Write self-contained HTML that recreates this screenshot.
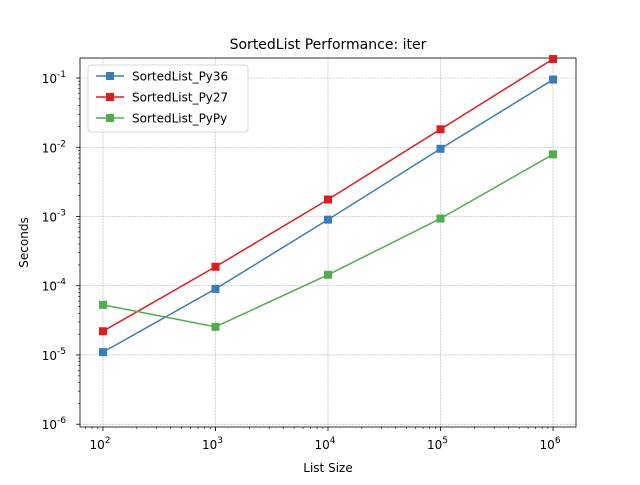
<!DOCTYPE html>
<html><head><meta charset="utf-8"><style>
body{margin:0;background:#fff;font-family:"Liberation Sans","DejaVu Sans",sans-serif;}
svg text{font-family:"DejaVu Sans","Liberation Sans",sans-serif;}
</style></head><body>
<svg id="chart" width="640" height="480" xmlns="http://www.w3.org/2000/svg">
<rect width="640" height="480" fill="#fff"/>
<g id="grid"></g><g id="axes"></g><g id="series"></g><g id="legend"></g>
</svg>
<script>
const sizes=[100,1000,10000,100000,1000000];
const py36=[1.1e-5,9.0e-5,9.0e-4,9.5e-3,9.5e-2];
const py27=[2.2e-5,1.88e-4,1.76e-3,1.82e-2,0.188];
const pypy=[5.3e-5,2.55e-5,1.44e-4,9.35e-4,7.9e-3];
const seriesNames=["SortedList_Py36","SortedList_Py27","SortedList_PyPy"];
const xTicks=[2,3,4,5,6];
const yTicks=[-6,-5,-4,-3,-2,-1];
const L=80,R=576,T=58,B=427;
const xmin=1.796,xmax=6.204,ymin=-6.04,ymax=-0.711;
const NS="http://www.w3.org/2000/svg";
function X(v){return L+(Math.log10(v)-xmin)/(xmax-xmin)*(R-L);}
function Y(v){return B-(Math.log10(v)-ymin)/(ymax-ymin)*(B-T);}
function mk(p,t,a){const e=document.createElementNS(NS,t);for(const k in a)e.setAttribute(k,a[k]);p.appendChild(e);return e;}
const grid=document.getElementById('grid'),axes=document.getElementById('axes'),ser=document.getElementById('series'),leg=document.getElementById('legend');
function sup(g,x,y,e,anchor){const t=mk(g,'text',{x:x,y:y,'font-size':12,'text-anchor':anchor,fill:'#000'});t.textContent='10';const s=mk(t,'tspan',{dy:-6,'font-size':9});s.textContent=e;return t;}
xTicks.forEach(e=>{const x=X(Math.pow(10,e));
 const gl=mk(grid,'line',{x1:x,x2:x,y1:T,y2:B,stroke:'#b0b0b0','stroke-width':0.6,'stroke-dasharray':'2.2,1'});
 
 mk(axes,'line',{x1:x,x2:x,y1:B,y2:B+4,stroke:'#000','stroke-width':0.8});
 const t=sup(axes,x-3,B+22,e,'middle');
 for(let m=2;m<10;m++){const v=m*Math.pow(10,e);const xm=X(v);if(xm<R)mk(axes,'line',{x1:xm,x2:xm,y1:B,y2:B+2,stroke:'#000','stroke-width':0.6});}
 for(let m=2;m<10;m++){const v=m*Math.pow(10,e-1);const xm=X(v);if(xm>L&&e==2)mk(axes,'line',{x1:xm,x2:xm,y1:B,y2:B+2,stroke:'#000','stroke-width':0.6});}
});
yTicks.forEach(e=>{const y=Y(Math.pow(10,e));
 const gl=mk(grid,'line',{x1:L,x2:R,y1:y,y2:y,stroke:'#b0b0b0','stroke-width':0.6,'stroke-dasharray':'2.2,1'});
 
 mk(axes,'line',{x1:L-4,x2:L,y1:y,y2:y,stroke:'#000','stroke-width':0.8});
 const t=sup(axes,L-14,y+5,e,'end');
 for(let m=2;m<10;m++){const ym=Y(m*Math.pow(10,e));if(ym>T)mk(axes,'line',{x1:L-2,x2:L,y1:ym,y2:ym,stroke:'#000','stroke-width':0.6});}
});
const fr=mk(axes,'rect',{x:L,y:T,width:R-L,height:B-T,fill:'none',stroke:'#000','stroke-width':0.8});

const ti=mk(axes,'text',{x:(L+R)/2,y:49,'font-size':14,'text-anchor':'middle'});ti.textContent='SortedList Performance: iter';

const xl=mk(axes,'text',{x:(L+R)/2,y:472,'font-size':12,'text-anchor':'middle'});xl.textContent='List Size';

const yl=mk(axes,'text',{x:28,y:(T+B)/2,'font-size':12,'text-anchor':'middle',transform:'rotate(-90 28 '+(T+B)/2+')'});yl.textContent='Seconds';

const data=[py36,py27,pypy],colors=['#377eb8','#e41a1c','#4daf4a'];
data.forEach((d,i)=>{
 const pts=d.map((v,j)=>X(sizes[j])+','+Y(v)).join(' ');
 const pl=mk(ser,'polyline',{points:pts,fill:'none',stroke:colors[i],'stroke-width':1.5});
 
 d.forEach((v,j)=>{const r=mk(ser,'rect',{x:X(sizes[j])-4,y:Y(v)-4,width:8,height:8,fill:colors[i]});
  });
});
const lb=mk(leg,'rect',{x:88,y:65,width:160,height:67,rx:3,fill:'#fff','fill-opacity':0.8,stroke:'#ccc','stroke-width':0.8});

seriesNames.forEach((n,i)=>{const y=76+i*21;
 mk(leg,'line',{x1:96,x2:124,y1:y,y2:y,stroke:colors[i],'stroke-width':1.5});
 mk(leg,'rect',{x:106,y:y-4,width:8,height:8,fill:colors[i]});
 const t=mk(leg,'text',{x:132,y:y+4.5,'font-size':12});t.textContent=n;
 
});
</script>
</body></html>
